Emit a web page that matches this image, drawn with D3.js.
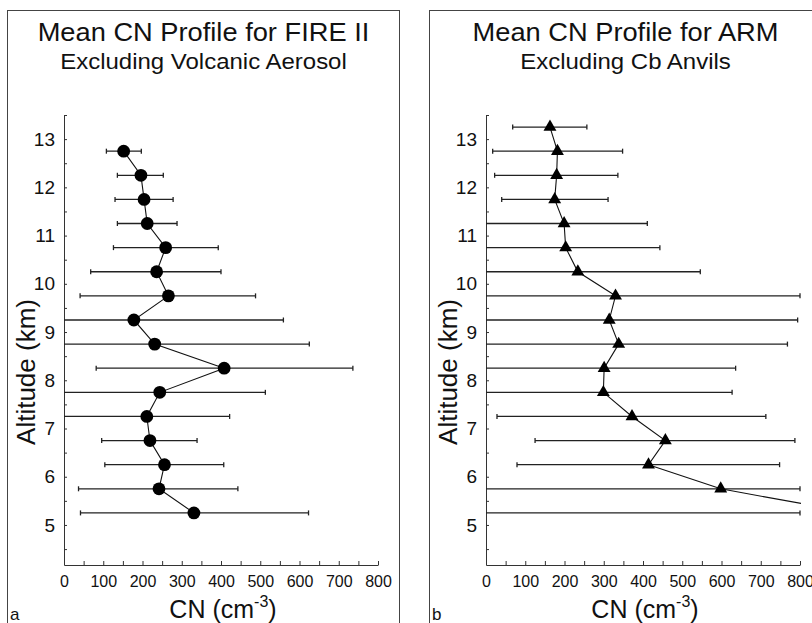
<!doctype html>
<html lang="en">
<head>
  <meta charset="utf-8">
  <title>Mean CN Profiles</title>
  <script src="https://cdn.jsdelivr.net/npm/d3@7"></script>
  <style>
    body { margin: 0; background: #fff; }
    svg { display: block; font-family: "Liberation Sans", Arial, sans-serif; }
    .axis path, .axis line { stroke: #333; }
    .axis text { fill: #111; }
  </style>
</head>
<body>
<svg width="812" height="623"></svg>
<script>

// altitude bins (km) and CN values (cm-3)
var fireAlt  = [12.75, 12.25, 11.75, 11.25, 10.75, 10.25, 9.75, 9.25, 8.75, 8.25, 7.75, 7.25, 6.75, 6.25, 5.75, 5.25];
var fireMean = [152, 196, 204, 212, 259, 236, 266, 178, 231, 408, 244, 211, 219, 256, 242, 331];
var fireLo   = [108, 136, 130, 136, 126, 68, 41, 0, 0, 82, 0, 0, 96, 104, 37, 42];
var fireHi   = [197, 253, 278, 288, 393, 400, 488, 559, 625, 736, 513, 422, 339, 407, 443, 623];

var armAlt  = [13.25, 12.75, 12.25, 11.75, 11.25, 10.75, 10.25, 9.75, 9.25, 8.75, 8.25, 7.75, 7.25, 6.75, 6.25, 5.75, 5.25];
var armMean = [163, 182, 180, 175, 199, 203, 234, 330, 314, 338, 301, 299, 372, 457, 414, 598, 935];
var armLo   = [68, 17, 22, 40, 0, 0, 0, 0, 0, 0, 0, 0, 28, 125, 79, 0, 0];
var armHi   = [257, 348, 336, 311, 411, 443, 546, 800, 794, 768, 636, 627, 713, 787, 748, 800, 800];

var xTicks = d3.range(0, 801, 50);
var yTicks = d3.range(4.5, 13.51, 0.5);

var svg = d3.select("svg");

var panelW = 392, plotL = 57, plotW = 314;
var yTop = 115, yBot = 565;

function stretch(sel, k) {
  sel.each(function() {
    var w = this.getComputedTextLength();
    d3.select(this).attr("textLength", w * k).attr("lengthAdjust", "spacingAndGlyphs");
  });
}

function drawPanel(px, title, subtitle, letter, alt, mean, lo, hi, marker, id) {

  var g = svg.append("g").attr("transform", "translate(" + px + ",0)");

  // panel frame
  g.append("rect")
    .attr("x", 0.5).attr("y", 10.5)
    .attr("width", panelW).attr("height", 640)
    .attr("fill", "none").attr("stroke", "#444").attr("stroke-width", 1);

  var x = d3.scaleLinear().domain([0, 800]).range([plotL, plotL + plotW]);
  var y = d3.scaleLinear().domain([4.17, 13.5]).range([yBot, yTop]);

  var cx = panelW / 2 + 0.5;
  g.append("text").attr("x", cx).attr("y", 41).attr("text-anchor", "middle")
    .attr("font-size", 25).attr("fill", "#111").text(title).call(stretch, 1.09);
  g.append("text").attr("x", cx).attr("y", 69).attr("text-anchor", "middle")
    .attr("font-size", 22).attr("fill", "#111").text(subtitle).call(stretch, 1.09);

  // axes
  g.append("g").attr("class", "axis")
    .attr("transform", "translate(0," + yBot + ")")
    .call(d3.axisBottom(x).tickValues(xTicks).tickSizeInner(-4).tickSizeOuter(0).tickPadding(11)
      .tickFormat(d => d % 100 === 0 ? d : ""))
    .call(a => a.selectAll("text").attr("font-size", 16).attr("font-family", null));

  g.append("g").attr("class", "axis")
    .attr("transform", "translate(" + plotL + ",0)")
    .call(d3.axisLeft(y).tickValues(yTicks).tickSizeInner(-3).tickSizeOuter(0).tickPadding(9)
      .tickFormat(d => Number.isInteger(d) ? d : ""))
    .call(a => a.selectAll("text").attr("font-size", 19).attr("font-family", null));

  g.append("text")
    .attr("transform", "translate(" + (plotL - 29) + "," + 372 + ") rotate(-90)")
    .attr("text-anchor", "middle").attr("font-size", 26).attr("fill", "#111")
    .text("Altitude (km)");

  var xl = g.append("text").attr("x", plotL + plotW / 2 + 2).attr("y", 618)
    .attr("text-anchor", "middle").attr("font-size", 25).attr("fill", "#111");
  xl.append("tspan").text("CN (cm");
  xl.append("tspan").attr("font-size", 16).attr("dy", -11).text("-3");
  xl.append("tspan").attr("dy", 11).text(")");

  g.append("text").attr("x", 3).attr("y", 620).attr("font-size", 17).attr("fill", "#111").text(letter);

  // clip to plot area
  g.append("clipPath").attr("id", id)
    .append("rect").attr("x", plotL).attr("y", yTop - 10).attr("width", plotW + 1).attr("height", yBot - yTop + 10);

  var data = alt.map((a, i) => ({ alt: a, mean: mean[i], lo: lo[i], hi: hi[i] }));
  var clamp = v => Math.max(0, Math.min(800, v));

  var bars = g.append("g").attr("stroke", "#222").attr("stroke-width", 1.3);
  bars.selectAll("line.bar").data(data).join("line").attr("class", "bar")
    .attr("x1", d => x(clamp(d.lo))).attr("x2", d => x(clamp(d.hi)))
    .attr("y1", d => y(d.alt)).attr("y2", d => y(d.alt));
  bars.selectAll("line.capL").data(data.filter(d => d.lo > 0)).join("line").attr("class", "capL")
    .attr("x1", d => x(clamp(d.lo))).attr("x2", d => x(clamp(d.lo)))
    .attr("y1", d => y(d.alt) - 2.5).attr("y2", d => y(d.alt) + 2.5);
  bars.selectAll("line.capR").data(data).join("line").attr("class", "capR")
    .attr("x1", d => x(clamp(d.hi))).attr("x2", d => x(clamp(d.hi)))
    .attr("y1", d => y(d.alt) - 2.5).attr("y2", d => y(d.alt) + 2.5);

  var plot = g.append("g").attr("clip-path", "url(#" + id + ")");

  plot.append("path").datum(data)
    .attr("fill", "none").attr("stroke", "#111").attr("stroke-width", 1.1)
    .attr("d", d3.line().x(d => x(d.mean)).y(d => y(d.alt)));

  if (marker === "circle") {
    plot.selectAll("circle").data(data).join("circle")
      .attr("cx", d => x(d.mean)).attr("cy", d => y(d.alt)).attr("r", 6.4)
      .attr("fill", "#000");
  } else {
    plot.selectAll("path.tri").data(data).join("path").attr("class", "tri")
      .attr("transform", d => "translate(" + x(d.mean) + "," + y(d.alt) + ")")
      .attr("d", d3.symbol(d3.symbolTriangle, 72))
      .attr("fill", "#000");
  }
}

drawPanel(7, "Mean CN Profile for FIRE II", "Excluding Volcanic Aerosol", "a",
  fireAlt, fireMean, fireLo, fireHi, "circle", "clipA");
drawPanel(429, "Mean CN Profile for ARM", "Excluding Cb Anvils", "b",
  armAlt, armMean, armLo, armHi, "triangle", "clipB");

</script>
</body>
</html>
